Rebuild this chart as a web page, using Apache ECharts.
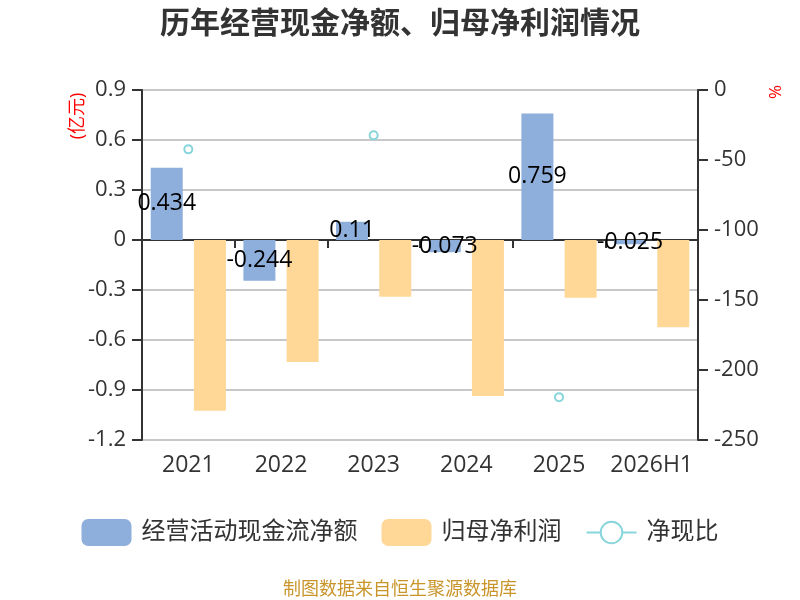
<!DOCTYPE html>
<html>
<head>
<meta charset="utf-8">
<script src="https://cdn.jsdelivr.net/npm/echarts@6/dist/echarts.min.js"></script>
<style>
  html, body { margin: 0; padding: 0; background: #fff; }
  #main { width: 800px; height: 600px; }
</style>
</head>
<body>
<div id="main"></div>
<script>
var years = ['2021', '2022', '2023', '2024', '2025', '2026H1'];
var cashFlow = [0.434, -0.244, 0.11, -0.073, 0.759, -0.025];   // 经营活动现金流净额(亿元)
var netProfit = [-1.024, -0.732, -0.34, -0.936, -0.346, -0.524]; // 归母净利润(亿元)
var cashRatio = [-42.4, 33.3, -32.4, 7.8, -219.4, 4.8];          // 净现比(%)

var font = '"Open Sans", "Noto Sans CJK SC", sans-serif';

var chart = echarts.init(document.getElementById('main'));  //echarts定义
var option = {
    textStyle: { fontFamily: font },
    title: [
        {
            text: '历年经营现金净额、归母净利润情况',
            left: 'center',
            top: 4,
            textStyle: { fontSize: 30, fontWeight: 'bold', color: '#333', fontFamily: font }
        },
        {
            text: '制图数据来自恒生聚源数据库',
            left: 'center',
            top: 576,
            textStyle: { fontSize: 18, fontWeight: 'normal', color: '#c9952b', fontFamily: font }
        }
    ],
    grid: {
        left: 142,
        right: 102,
        top: 90,
        bottom: 160
    },
    legend: {
        bottom: 49,
        left: 'center',
        itemWidth: 50,
        itemHeight: 27,
        itemGap: 24,
        textStyle: { fontSize: 24, color: '#333', padding: [0, 0, 0, 5] },
        data: [
            { name: '经营活动现金流净额', icon: 'roundRect' },
            { name: '归母净利润', icon: 'roundRect' },
            { name: '净现比', lineStyle: { width: 2, color: '#88d5dc', opacity: 1 } }
        ]
    },
    // 左右轴单位
    graphic: [
        {
            type: 'text',
            x: 78, y: 116,
            rotation: Math.PI / 2,
            style: { text: '(亿元)', fill: '#ff0000', fontSize: 18, fontFamily: font, align: 'center', verticalAlign: 'middle' }
        },
        {
            type: 'text',
            x: 776, y: 92,
            rotation: Math.PI / 2,
            style: { text: '%', fill: '#ff0000', fontSize: 17, fontFamily: font, align: 'center', verticalAlign: 'middle' }
        }
    ],
    xAxis: [
        {
            type: 'category',
            data: years,
            axisLine: { onZero: true, onZeroAxisIndex: 0, lineStyle: { color: '#333', width: 2 } },
            axisTick: { show: true, length: 8, lineStyle: { color: '#333', width: 2 } },
            axisLabel: { show: false }
        },
        {
            type: 'category',
            data: years,
            position: 'bottom',
            axisLine: { show: false, onZero: false },
            axisTick: { show: false },
            axisLabel: { fontSize: 23, color: '#333', margin: 14, interval: 0 }
        }
    ],
    yAxis: [
        {
            type: 'value',
            min: -1.2,
            max: 0.9,
            interval: 0.3,
            axisLine: { show: true, lineStyle: { color: '#333', width: 2 } },
            axisTick: { show: true, length: 10, lineStyle: { color: '#333', width: 2 } },
            axisLabel: {
                fontSize: 22, color: '#333', margin: 16,
                formatter: function (v) { return +v.toFixed(1); }
            },
            splitLine: { lineStyle: { color: '#c8c8c8', width: 2 } }
        },
        {
            type: 'value',
            min: -250,
            max: 0,
            interval: 50,
            position: 'right',
            axisLine: { show: true, lineStyle: { color: '#333', width: 2 } },
            axisTick: { show: true, length: 10, lineStyle: { color: '#333', width: 2 } },
            axisLabel: { fontSize: 22, color: '#333', margin: 16 },
            splitLine: { show: false }
        }
    ],
    series: [
        {
            name: '经营活动现金流净额',
            type: 'bar',
            xAxisIndex: 0,
            yAxisIndex: 0,
            barWidth: 32,
            barGap: '35%',
            itemStyle: { color: '#8eaedb' },
            label: { show: true, position: 'inside', color: '#000', fontSize: 23 },
            data: cashFlow
        },
        {
            name: '归母净利润',
            type: 'bar',
            xAxisIndex: 0,
            yAxisIndex: 0,
            barWidth: 32,
            barGap: '35%',
            itemStyle: { color: '#ffd898' },
            data: netProfit
        },
        {
            name: '净现比',
            type: 'line',
            xAxisIndex: 0,
            yAxisIndex: 1,
            symbol: 'emptyCircle',
            symbolSize: 8,
            itemStyle: { color: '#88d5dc', borderWidth: 2 },
            lineStyle: { width: 0, opacity: 0 },
            data: cashRatio
        }
    ]
};
chart.setOption(option);
</script>
</body>
</html>
